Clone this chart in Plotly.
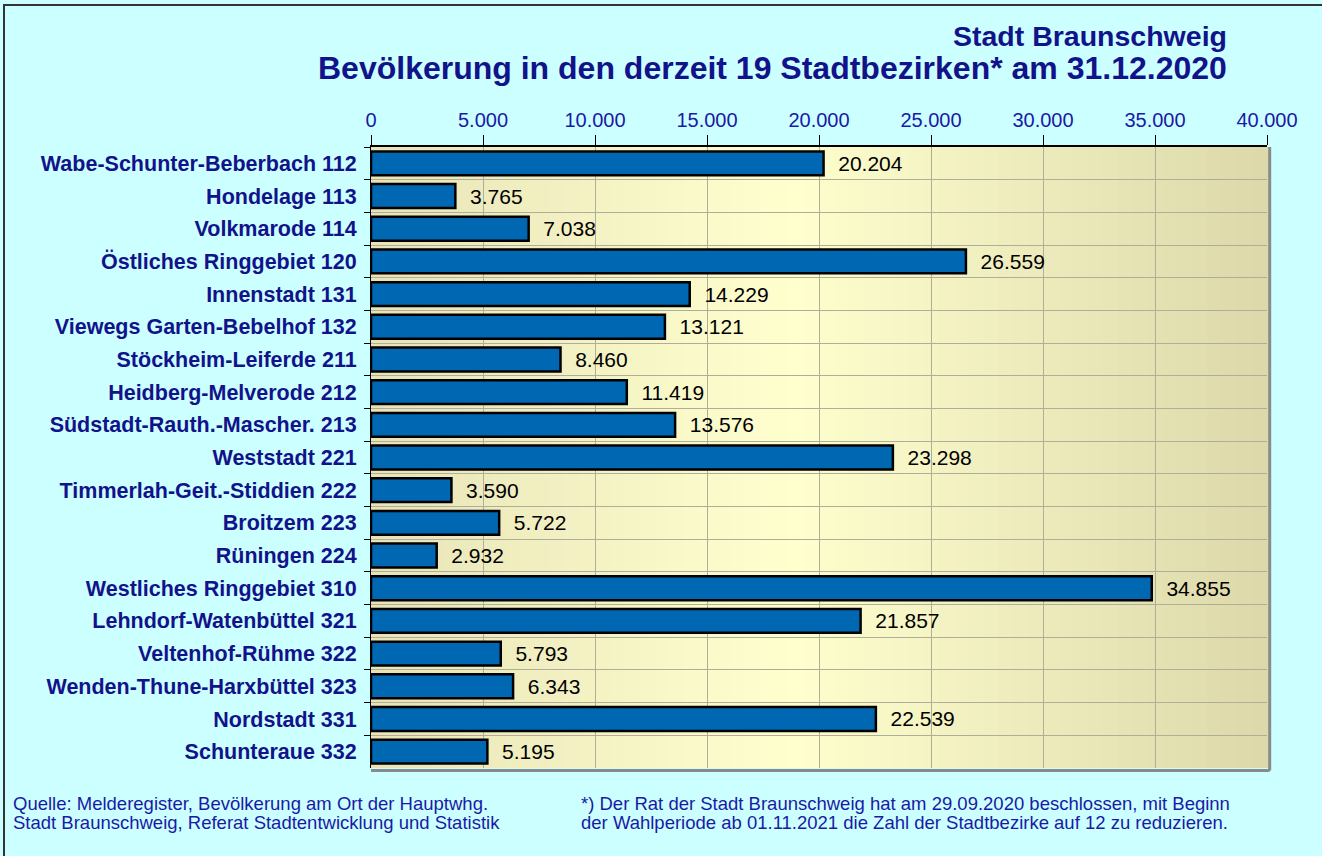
import plotly.graph_objects as go

categories = [
    "Wabe-Schunter-Beberbach 112", "Hondelage 113", "Volkmarode 114",
    "Östliches Ringgebiet 120", "Innenstadt 131", "Viewegs Garten-Bebelhof 132",
    "Stöckheim-Leiferde 211", "Heidberg-Melverode 212", "Südstadt-Rauth.-Mascher. 213",
    "Weststadt 221", "Timmerlah-Geit.-Stiddien 222", "Broitzem 223", "Rüningen 224",
    "Westliches Ringgebiet 310", "Lehndorf-Watenbüttel 321", "Veltenhof-Rühme 322",
    "Wenden-Thune-Harxbüttel 323", "Nordstadt 331", "Schunteraue 332",
]
population = [20204, 3765, 7038, 26559, 14229, 13121, 8460, 11419, 13576, 23298,
              3590, 5722, 2932, 34855, 21857, 5793, 6343, 22539, 5195]
tick_values = [0, 5000, 10000, 15000, 20000, 25000, 30000, 35000, 40000]

W, H = 1322, 856
L, R, T, B = 371, 55, 147, 88
PW, PH = W - L - R, H - T - B

def px_x(px):
    return (px - L) / PW

def px_y(py):
    return (H - B - py) / PH

NAVY = "#12128a"
FOOT = "#1a1aa6"
FONT = "Liberation Sans, Arial, sans-serif"

fig = go.Figure()
fig.add_trace(go.Bar(
    x=population, y=categories, orientation="h",
    marker=dict(color="#0067b3", line=dict(color="#000000", width=2.5)),
    text=population, texttemplate="  %{x:,.0f}", textposition="outside",
    textfont=dict(family=FONT, size=21, color="#000000"),
    cliponaxis=False, hoverinfo="skip",
))

def lerp(c1, c2, t):
    return tuple(round(a + (b - a) * t) for a, b in zip(c1, c2))

left_c, mid_c, right_c = (232, 228, 184), (255, 255, 206), (220, 216, 170)
n = 60
shapes = []
for i in range(n):
    f = (i + 0.5) / n
    if f < 0.47:
        c = lerp(left_c, mid_c, f / 0.47)
    else:
        c = lerp(mid_c, right_c, (f - 0.47) / 0.53)
    shapes.append(dict(type="rect", xref="x domain", yref="y domain",
                       x0=i / n, x1=(i + 1) / n + 0.002, y0=0, y1=1,
                       fillcolor="rgb(%d,%d,%d)" % c, line=dict(width=0), layer="below"))
shapes.append(dict(type="line", xref="x domain", yref="y domain", x0=1.003, x1=1.003, y0=-0.004, y1=1,
                   line=dict(color="#8a8a8a", width=3), layer="above"))
shapes.append(dict(type="line", xref="x domain", yref="y domain", x0=0, x1=1.003, y0=-0.004, y1=-0.004,
                   line=dict(color="#8a8a8a", width=3), layer="above"))
shapes.append(dict(type="rect", xref="paper", yref="paper",
                   x0=px_x(4), x1=px_x(W + 10), y0=px_y(H + 10), y1=px_y(5),
                   line=dict(color="#333333", width=2), layer="below"))

def note(text, x, y):
    return dict(text=text, xref="paper", yref="paper", x=px_x(x), y=px_y(y),
                xanchor="left", yanchor="middle", align="left", showarrow=False,
                font=dict(family=FONT, size=18.5, color=FOOT))

fig.update_layout(
    width=W, height=H,
    margin=dict(l=L, r=R, t=T, b=B),
    paper_bgcolor="#ccffff",
    plot_bgcolor="rgba(0,0,0,0)",
    separators=",.",
    showlegend=False,
    bargap=0.27,
    shapes=shapes,
    xaxis=dict(
        side="top", range=[0, 40000], tickvals=tick_values, tickformat=",.0f",
        showgrid=True, gridcolor="#b0ae96", gridwidth=1,
        ticks="outside", ticklen=10, tickcolor="#000000", tickwidth=1,
        showline=True, linecolor="#000000", linewidth=2,
        tickfont=dict(family=FONT, size=20, color="#1a1aa6"),
        zeroline=False, fixedrange=True,
    ),
    yaxis=dict(
        categoryorder="array", categoryarray=categories, autorange="reversed",
        tickson="boundaries", showgrid=True, gridcolor="#b0ae96", gridwidth=1,
        ticks="outside", ticklen=6, tickcolor="#000000",
        showline=True, linecolor="#000000", linewidth=1,
        tickfont=dict(family=FONT, size=21.5, color=NAVY, weight="bold"),
        ticklabelstandoff=9,
        fixedrange=True,
    ),
    annotations=[
        dict(text="<b>Stadt Braunschweig</b>", xref="paper", yref="paper",
             x=px_x(1229), y=px_y(36), xanchor="right", yanchor="middle", showarrow=False,
             font=dict(family=FONT, size=28.5, color=NAVY)),
        dict(text="<b>Bevölkerung in den derzeit 19 Stadtbezirken* am 31.12.2020</b>", xref="paper", yref="paper",
             x=px_x(1229), y=px_y(68), xanchor="right", yanchor="middle", showarrow=False,
             font=dict(family=FONT, size=32, color=NAVY)),
        note("Quelle: Melderegister, Bevölkerung am Ort der Hauptwhg.", 11, 803),
        note("Stadt Braunschweig, Referat Stadtentwicklung und Statistik", 11, 822),
        note("*) Der Rat der Stadt Braunschweig hat am 29.09.2020 beschlossen, mit Beginn", 579, 803),
        note("der Wahlperiode ab 01.11.2021 die Zahl der Stadtbezirke auf 12 zu reduzieren.", 579, 822),
    ],
)

fig.write_html("out.html", config={"displayModeBar": False},
               post_script="document.body.style.margin='0';")
